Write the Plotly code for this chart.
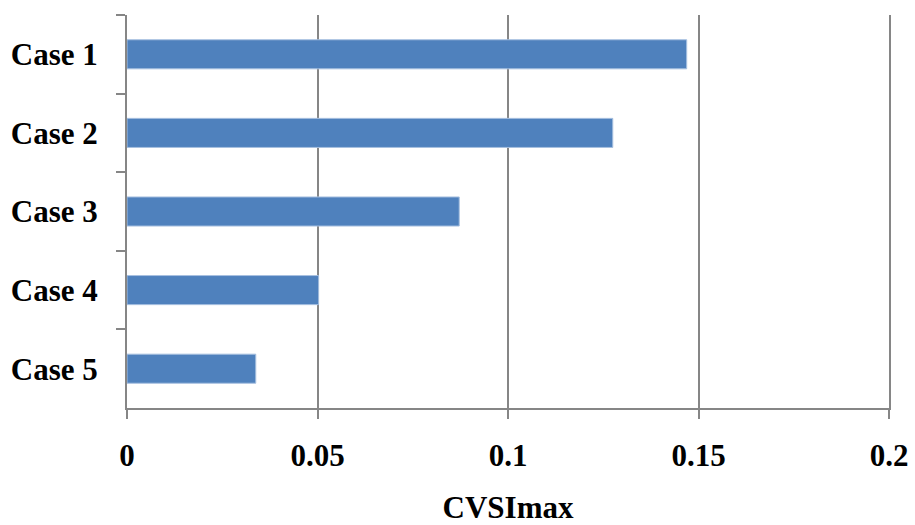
import plotly.graph_objects as go

# chart data
cases = ['Case 1', 'Case 2', 'Case 3', 'Case 4', 'Case 5']
cvsi_max = [0.1469, 0.1275, 0.0872, 0.0503, 0.0338]
x_ticks = [0, 0.05, 0.1, 0.15, 0.2]
x_tick_labels = ['0', '0.05', '0.1', '0.15', '0.2']

FONT = 'Liberation Serif'
GRAY = '#868686'
LABEL_FONT = dict(family=FONT, size=31, weight='bold', color='black')

fig = go.Figure()

fig.add_trace(go.Bar(
    x=cvsi_max,
    y=cases,
    orientation='h',
    width=0.37,
    marker=dict(color='#4F81BD', line=dict(color='#A7C0E0', width=1)),
    showlegend=False
))

fig.update_layout(
    width=915,
    height=525,
    margin=dict(l=127, r=26, t=15, b=117),
    plot_bgcolor='white',
    paper_bgcolor='white',
    font=dict(family=FONT, size=31, color='black'),
    xaxis=dict(
        range=[0, 0.2],
        tickvals=x_ticks,
        ticktext=x_tick_labels,
        automargin=False,
        ticklabeloverflow='allow',
        showgrid=True,
        gridcolor=GRAY,
        gridwidth=2,
        zeroline=False,
        showline=True,
        linecolor=GRAY,
        linewidth=2,
        ticks='outside',
        ticklen=9,
        tickwidth=2,
        tickcolor=GRAY,
        ticklabelstandoff=10,
        tickfont=LABEL_FONT,
        title=dict(text='CVSImax', font=LABEL_FONT, standoff=37),
    ),
    yaxis=dict(
        categoryorder='array',
        categoryarray=cases,
        autorange='reversed',
        automargin=False,
        showgrid=False,
        showline=True,
        mirror=True,  # right edge line stands in for the 0.2 gridline
        linecolor=GRAY,
        linewidth=2,
        ticks='outside',
        tickson='boundaries',
        ticklen=9,
        tickwidth=2,
        tickcolor=GRAY,
        ticklabelstandoff=21,
        tickfont=LABEL_FONT,
    ),
)

# drop the default 8px page margin so the figure fills the window exactly
fig.write_html("out.html", config={'displayModeBar': False},
               post_script="document.body.style.margin = '0';")
